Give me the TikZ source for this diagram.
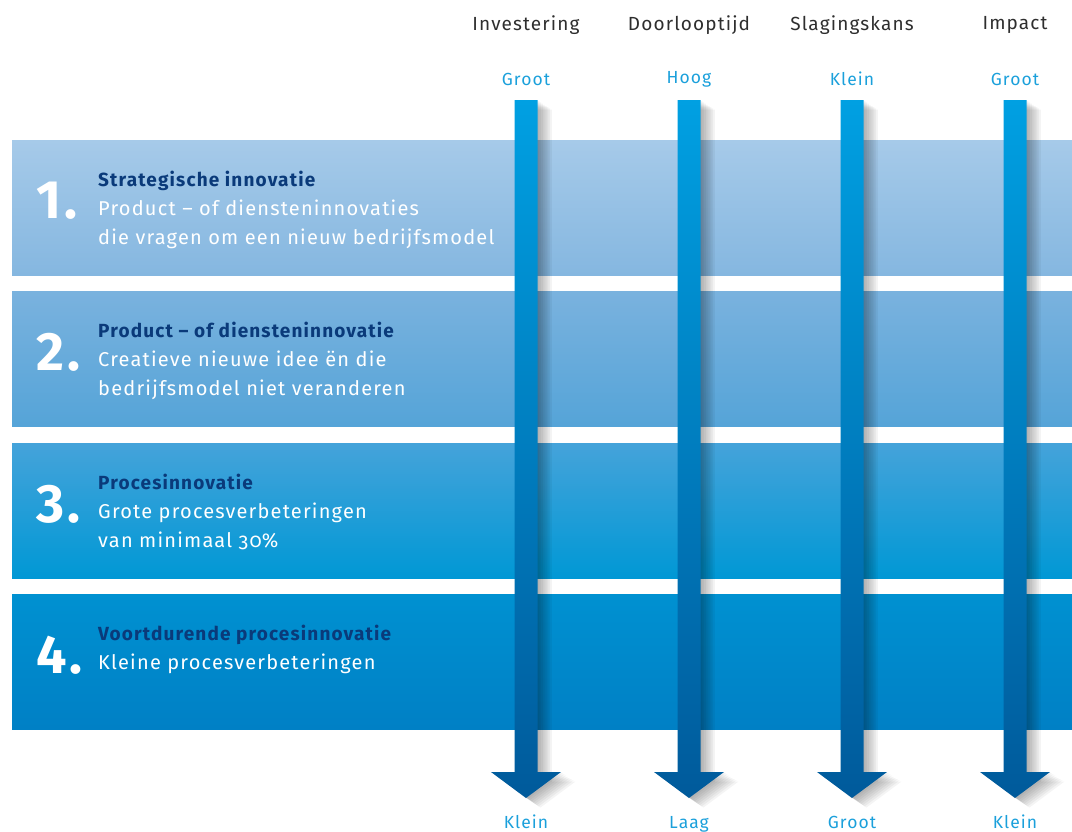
\documentclass[tikz,border=0pt]{standalone}
\usepackage{fontspec}
\setmainfont{Fira Sans}[LetterSpace=6]
\newfontfamily\osfnum{Fira Sans}[Numbers=OldStyle,LetterSpace=6]

\definecolor{hdrgray}{HTML}{2E2E2E}
\definecolor{lblcyan}{HTML}{1BA0DB}
\definecolor{navy}{HTML}{0A3A7A}
\definecolor{bandAtop}{HTML}{A6CAE9}
\definecolor{bandAbot}{HTML}{85B7E0}
\definecolor{bandBtop}{HTML}{7AB2DE}
\definecolor{bandBbot}{HTML}{55A4D8}
\definecolor{bandCtop}{HTML}{45A3DA}
\definecolor{bandCbot}{HTML}{0098D5}
\definecolor{bandDtop}{HTML}{0091D1}
\definecolor{bandDbot}{HTML}{0080C5}
\definecolor{arrowtop}{HTML}{00A0E2}
\definecolor{arrowbot}{HTML}{005A9B}

\tikzset{
  colhead/.style={text=hdrgray,font=\fontsize{19}{21}\selectfont},
  collabel/.style={text=lblcyan,inner sep=1,font=\fontsize{17.5}{19}\selectfont},
  bignum/.style={anchor=west,text=white,inner sep=0,font=\fontsize{54}{54}\selectfont\bfseries},
  bandtext/.style={anchor=north west,align=left,text=white,inner sep=0,font=\fontsize{20}{29}\selectfont}
}

% fat arrow, centred on x=0
\newcommand\fatarrow{(-11.5,100) -- (11.5,100) -- (11.5,772) -- (35,772) -- (0,798) -- (-35,772) -- (-11.5,772) -- cycle}

\begin{document}
\begin{tikzpicture}[x=1pt,y=-1pt]
\useasboundingbox (0,0) rectangle (1072,831);
%\draw[step=50,gray,very thin] (0,0) grid (1072,831);

% bands
\foreach \top/\ctop/\cbot/\num/\title/\body [count=\k] in {
  140/bandAtop/bandAbot/1/{Strategische innovatie}/{Product – of diensteninnovaties\\die vragen om een nieuw bedrijfsmodel},
  291/bandBtop/bandBbot/2/{Product – of diensteninnovatie}/{Creatieve nieuwe idee ën die\\bedrijfsmodel niet veranderen},
  443/bandCtop/bandCbot/3/{Procesinnovatie}/{Grote procesverbeteringen\\van minimaal {\osfnum 30}\%},
  594/bandDtop/bandDbot/4/{Voortdurende procesinnovatie}/{Kleine procesverbeteringen}}{
  \shade[top color=\ctop,bottom color=\cbot] (12,\top) rectangle (1072,\top+135);
  \node[bignum] (n\k) at (36,\top+61) {\num.};
  \node[bandtext] (d\k) at (98,\top+31) {{\fontsize{19}{29}\selectfont\bfseries\color{navy}\title}\\\body};
}

% columns with arrows
\foreach \cx/\name/\hi/\lo [count=\i] in {
  526/Investering/Groot/Klein,
  689/Doorlooptijd/Hoog/Laag,
  852/Slagingskans/Klein/Groot,
  1015/Impact/Groot/Klein}{
  \node[colhead] (h\i) at (\cx,25) {\name};
  \node[collabel] (t\i) at (\cx,79) {\hi};
  \node[collabel,anchor=base] (b\i) at (\cx,828) {\lo};
  \foreach \d in {1,...,8}
    \fill[black,opacity=0.045,shift={(\cx+\d*1.8,\d*1.2)}] \fatarrow;
  \shade[top color=arrowtop,bottom color=arrowbot,shift={(\cx,0)}] \fatarrow;
}
\end{tikzpicture}
\end{document}
